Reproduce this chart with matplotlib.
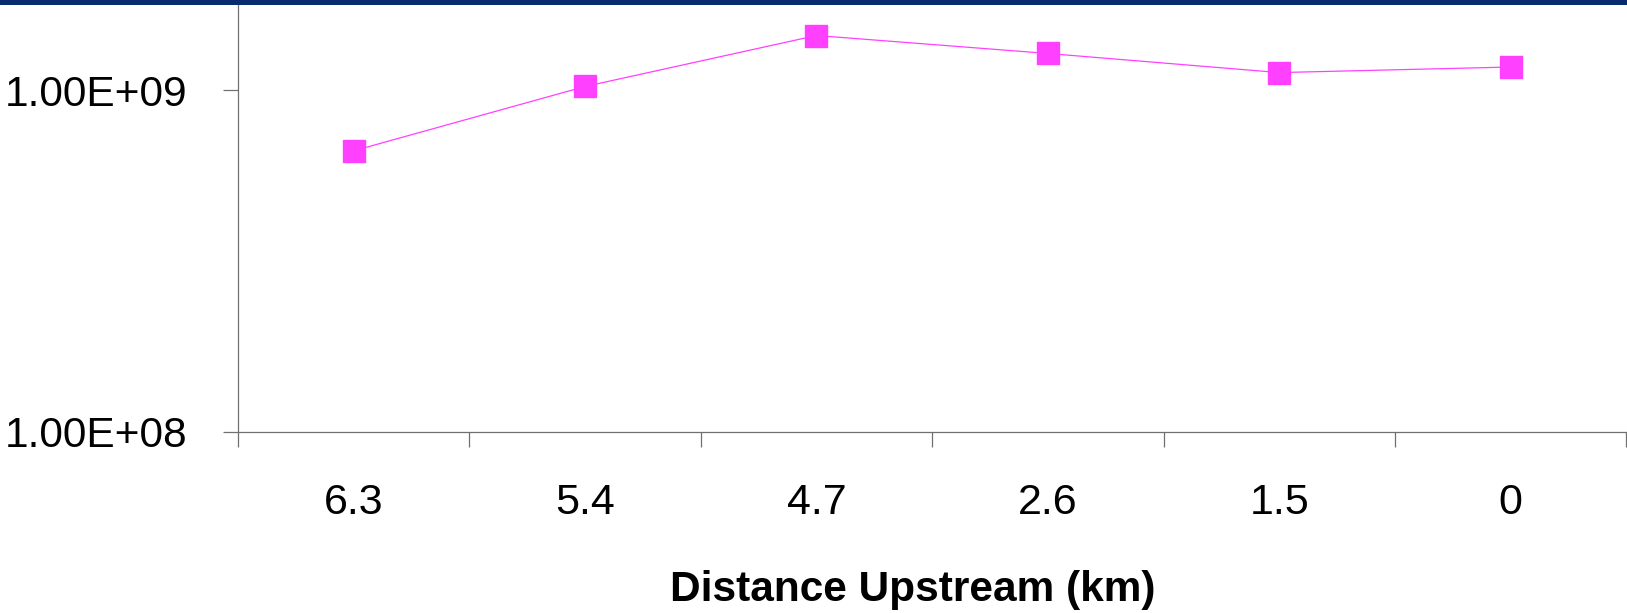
import matplotlib
matplotlib.use("Agg")
import matplotlib.pyplot as plt
from matplotlib import font_manager
from matplotlib.patches import Rectangle
from matplotlib.ticker import FixedLocator, FixedFormatter, NullLocator

categories = ["6.3", "5.4", "4.7", "2.6", "1.5", "0"]
values = [6.65e8, 1.026e9, 1.447e9, 1.282e9, 1.127e9, 1.170e9]
ytick_values = [1e8, 1e9]
ytick_labels = ["1.00E+08", "1.00E+09"]
xlabel = "Distance Upstream (km)"

plt.rcParams['font.family'] = ['Liberation Sans', 'DejaVu Sans']

names = {f.name for f in font_manager.fontManager.ttflist}
if "Liberation Sans Narrow" in names:
    label_family = ['Liberation Sans Narrow', 'Liberation Sans', 'DejaVu Sans']
    label_size = 37
else:
    label_family = ['Liberation Sans', 'DejaVu Sans']
    label_size = 30.5

W, H = 1627, 613
fig = plt.figure(figsize=(W / 100, H / 100), dpi=100)
ax = fig.add_axes([238 / W, 1 - 431.7 / H, (1626.3 - 238) / W, 431.7 / H])

x = list(range(len(categories)))
ax.plot(x, values, color="#FF40FF", linewidth=0.9, marker="s",
        markersize=16.5, markerfacecolor="#FF40FF", markeredgecolor="#FF40FF",
        clip_on=False, zorder=3)

ax.set_yscale("log")
ax.set_ylim(1e8, 10 ** (9 + 90.3 / 341.4))
ax.set_xlim(-0.5, len(categories) - 0.5)

ax.yaxis.set_major_locator(FixedLocator(ytick_values))
ax.yaxis.set_major_formatter(FixedFormatter(ytick_labels))
ax.yaxis.set_minor_locator(NullLocator())

ax.xaxis.set_major_locator(FixedLocator(x))
ax.xaxis.set_major_formatter(FixedFormatter(categories))
ax.xaxis.set_minor_locator(FixedLocator([i - 0.5 for i in range(len(categories) + 1)]))

spine_color = "#707070"
for s in ["top", "right"]:
    ax.spines[s].set_visible(False)
for s in ["left", "bottom"]:
    ax.spines[s].set_color(spine_color)
    ax.spines[s].set_linewidth(0.9)

ax.tick_params(axis="y", which="major", direction="out", length=10.8, width=0.9,
               color=spine_color, labelsize=30.5, pad=26, labelcolor="black")
ax.tick_params(axis="x", which="major", length=0, labelsize=31, pad=37, labelcolor="black")
ax.tick_params(axis="x", which="minor", direction="out", length=10.8, width=0.9,
               color=spine_color)

fig.text(913 / W, 12 / H, xlabel, ha="center", va="baseline", fontsize=label_size,
         fontweight="bold", color="black", family=label_family)

fig.patches.append(Rectangle((0, 1 - 5 / H), 1, 5 / H, transform=fig.transFigure,
                             facecolor="#0A2A6E", edgecolor="none", zorder=10))

fig.savefig("out.png", dpi=100)
